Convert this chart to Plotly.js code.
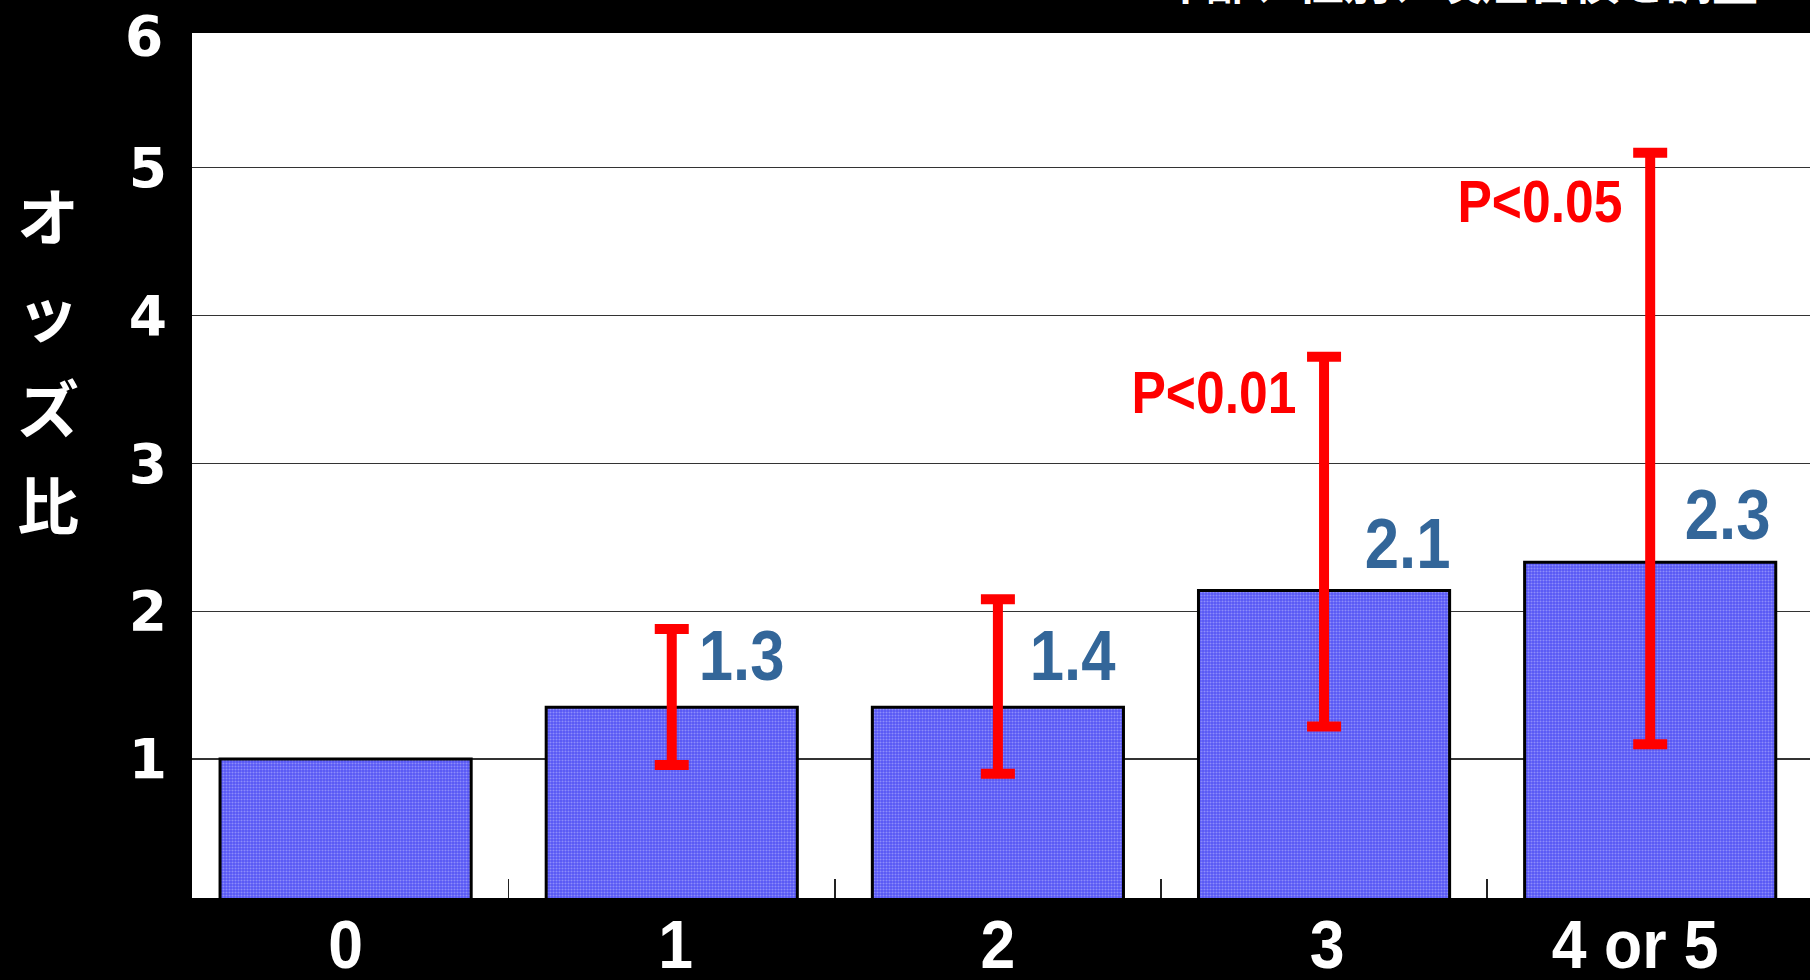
<!DOCTYPE html>
<html>
<head>
<meta charset="utf-8">
<script src="https://cdn.plot.ly/plotly-3.0.1.min.js"></script>
<style>
html,body{margin:0;padding:0;background:#000;}
#chart{width:1810px;height:980px;}
</style>
</head>
<body>
<div id="chart"></div>
<script>
// ---- data ----
const categories = ['0', '1', '2', '3', '4 or 5'];
const oddsRatio = [1.0, 1.35, 1.35, 2.14, 2.33];
const valueLabels = ['', '1.3', '1.4', '2.1', '2.3'];
const ciCategories = ['1', '2', '3', '4 or 5'];
const ciCenter = [1.35, 1.35, 2.14, 2.33];
const ciUpper = [1.88, 2.08, 3.72, 5.10];
const ciLower = [0.96, 0.90, 1.22, 1.10];
const pCategories = ['3', '4 or 5'];
const pLabels = ['P<0.01', 'P<0.05'];
const pLabelY = [3.48, 4.77];
const yTickVals = [1, 2, 3, 4, 5];
const yTopLabel = '6';
const yTitle = 'オッズ比';
const titleText = '年齢、性別、喫煙習慣を調整';

// label offsets (pixels)
const valueLabelDx = [0, 70, 75, 83, 77];
const valueLabelDy = [0, 51, 51, 46, 47];
const xTickLabelDx = [0, 4, 0, 3, -15];

const wide = '"Liberation Sans", Arial, sans-serif';
const heavy = '"DejaVu Sans", "Liberation Sans", sans-serif';
const cjk = '"Noto Sans CJK JP", "Noto Sans CJK SC", sans-serif';

const barTrace = {
  type: 'bar',
  x: categories,
  y: oddsRatio,
  marker: {
    color: '#5b5bf6',
    line: {color: '#000', width: 3},
    pattern: {shape: '.', fgcolor: '#c4c4ff', bgcolor: '#5555f4', size: 3, solidity: 0.4, fillmode: 'overlay'}
  },
  hoverinfo: 'skip',
  showlegend: false
};

const ciTrace = {
  type: 'scatter',
  mode: 'markers',
  x: ciCategories,
  y: ciCenter,
  marker: {size: 0.1, color: 'rgba(0,0,0,0)'},
  error_y: {
    type: 'data',
    symmetric: false,
    array: ciUpper.map((u, i) => u - ciCenter[i]),
    arrayminus: ciLower.map((l, i) => ciCenter[i] - l),
    color: '#ff0000',
    thickness: 10,
    width: 17
  },
  hoverinfo: 'skip',
  showlegend: false
};

const annotations = [];
const squeezeIdx = {};
categories.forEach((c, i) => {
  if (!valueLabels[i]) return;
  squeezeIdx[annotations.length] = 0.88;
  annotations.push({
    x: c, y: oddsRatio[i], xref: 'x', yref: 'y',
    text: '<b>' + valueLabels[i] + '</b>',
    showarrow: false, xanchor: 'center', yanchor: 'middle',
    xshift: valueLabelDx[i], yshift: valueLabelDy[i],
    font: {family: wide, size: 70, color: '#336699'}
  });
});
pCategories.forEach((c, i) => {
  squeezeIdx[annotations.length] = 0.86;
  annotations.push({
    x: c, y: pLabelY[i], xref: 'x', yref: 'y',
    text: '<b>' + pLabels[i] + '</b>',
    showarrow: false, xanchor: 'center', yanchor: 'middle',
    xshift: -110,
    font: {family: wide, size: 60, color: '#ff0000'}
  });
});
// top "6" tick label
annotations.push({
  x: 0, y: 1, xref: 'paper', yref: 'paper',
  text: '<b>' + yTopLabel + '</b>',
  showarrow: false, xanchor: 'right', yanchor: 'middle',
  xshift: -27, yshift: -3,
  font: {family: heavy, size: 55, color: '#fff'}
});
// vertical y-axis title
annotations.push({
  x: 0, y: 0.624, xref: 'paper', yref: 'paper',
  text: yTitle.split('').map(ch => '<span style="font-size:62px">' + ch + '</span>').join('<br>'),
  showarrow: false, xanchor: 'center', yanchor: 'middle',
  xshift: -144,
  font: {family: cjk, size: 74, color: '#fff', weight: 700}
});
// cut-off title at top
annotations.push({
  x: 0.783, y: 1, xref: 'paper', yref: 'paper',
  text: titleText,
  showarrow: false, xanchor: 'center', yanchor: 'bottom',
  yshift: 19,
  font: {family: cjk, size: 46, color: '#fff', weight: 700}
});

const layout = {
  width: 1810, height: 980,
  paper_bgcolor: '#000',
  plot_bgcolor: '#fff',
  margin: {l: 192, r: 0, t: 33, b: 82, pad: 0},
  bargap: 0.23,
  showlegend: false,
  xaxis: {
    type: 'category',
    range: [-0.471, 4.49],
    ticks: 'inside', tickson: 'boundaries', ticklen: 19, tickwidth: 1.5, tickcolor: '#222',
    showgrid: false, zeroline: false, showline: false,
    tickfont: {family: wide, size: 68, color: '#fff', weight: 700},
    ticklabelstandoff: 1,
    fixedrange: true
  },
  yaxis: {
    range: [0.06, 5.91],
    tickvals: yTickVals,
    ticktext: yTickVals.map(v => String(v)),
    showgrid: true, gridcolor: '#333', gridwidth: 1.2,
    zeroline: false, showline: false, ticks: '',
    tickfont: {family: heavy, size: 55, color: '#fff', weight: 700},
    ticklabelstandoff: 24,
    fixedrange: true
  },
  annotations: annotations
};

function squeeze(el, s, dx) {
  const b = el.getBBox();
  const cx = b.x + b.width / 2;
  const t = el.getAttribute('transform') || '';
  el.setAttribute('transform', t + ' translate(' + (cx + (dx || 0)) + ',0) scale(' + s + ',1) translate(' + (-cx) + ',0)');
}

Plotly.newPlot('chart', [barTrace, ciTrace], layout, {displayModeBar: false, staticPlot: true}).then(gd => {
  gd.querySelectorAll('.xtick text').forEach(el => {
    const i = categories.indexOf(el.textContent);
    squeeze(el, 0.92, i >= 0 ? xTickLabelDx[i] : 0);
  });
  gd.querySelectorAll('g.annotation').forEach(g => {
    const idx = +g.getAttribute('data-index');
    if (squeezeIdx[idx]) {
      const t = g.querySelector('text.annotation-text');
      if (t) squeeze(t, squeezeIdx[idx], 0);
    }
  });
});
</script>
</body>
</html>
